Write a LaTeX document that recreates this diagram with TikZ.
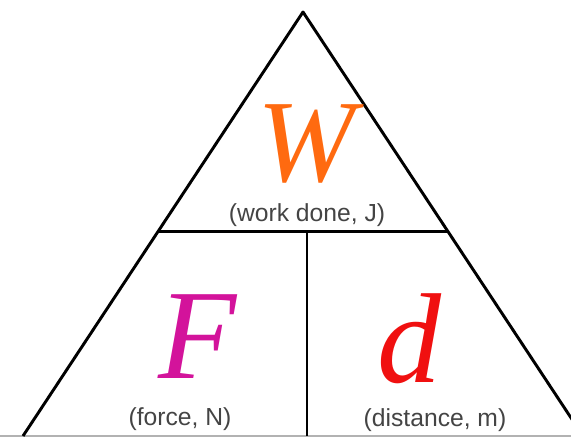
\documentclass[tikz,border=0pt]{standalone}
\usepackage{fontspec}
\setmainfont{Liberation Serif}
\setsansfont{Liberation Sans}
\usepackage{tikz}
\usetikzlibrary{positioning, calc}
\usepackage{xcolor}
\definecolor{workcol}{HTML}{FF6A10}
\definecolor{forcecol}{HTML}{D3139B}
\definecolor{distcol}{HTML}{F01010}
\definecolor{labelcol}{HTML}{444444}

\begin{document}
\begin{tikzpicture}[x=0.75pt, y=-0.75pt,
	qty/.style={font=\fontsize{96}{96}\selectfont\itshape, inner sep=0pt, anchor=base},
	unit/.style={font=\sffamily\fontsize{18.5}{18.5}\selectfont, text=labelcol, inner sep=0pt, anchor=base},
	edge/.style={line width=2.2pt, line join=round}]
	\useasboundingbox (0,0) rectangle (571,438);
	\clip (0,0) rectangle (571,438);
	% corners of the triangle
	\coordinate (top) at (303,12);
	\coordinate (left) at (23,436);
	\coordinate (right) at (583,436);
	\coordinate (midL) at ($(top)!0.518!(left)$);
	\coordinate (midR) at ($(top)!0.518!(right)$);
	\coordinate (split) at (307,231);
	\coordinate (splitB) at (307,436);
	\draw[gray!60, line width=1.5pt] (0,436) -- (571,436);
	\draw[edge] (left) -- (top) -- (right);
	\draw[edge] (midL) -- (midR);
	\draw[edge] (split) -- (splitB);
	% quantities
	\node[qty, text=workcol, font=\fontsize{88}{88}\selectfont\itshape] (W) at (306,182) {W};
	\node[unit] (Wlab) at (307,222) {(work done, J)};
	\node[qty, text=forcecol] (F) at (198,378) {F};
	\node[unit] (Flab) at (180,425) {(force, N)};
	\node[qty, text=distcol] (d) at (409,382) {d};
	\node[unit] (dlab) at (435,426) {(distance, m)};
\end{tikzpicture}
\end{document}
